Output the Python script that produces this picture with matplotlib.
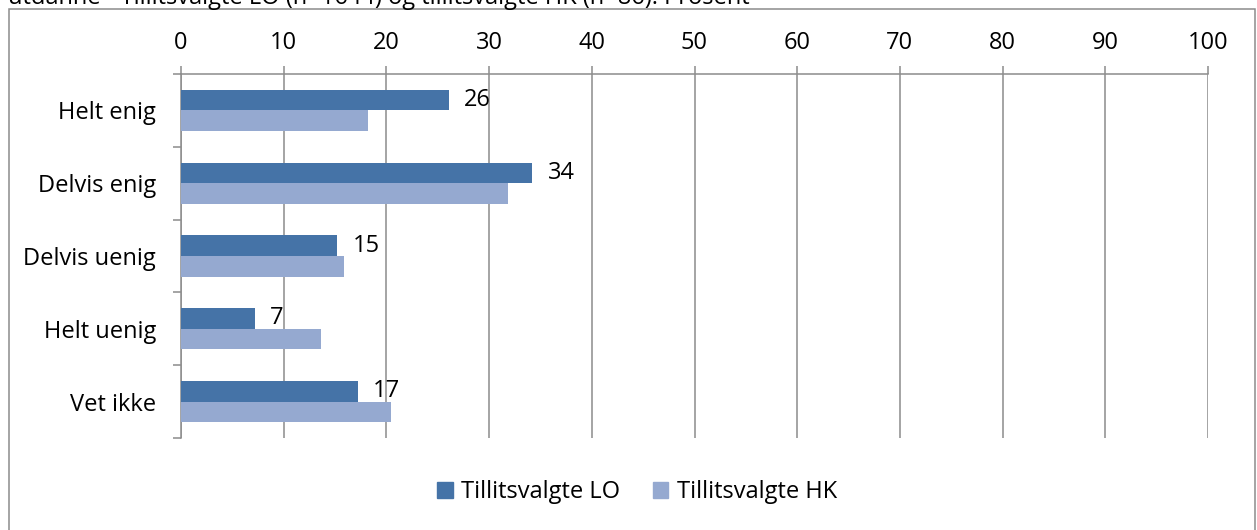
import matplotlib
matplotlib.use("Agg")
import matplotlib.pyplot as plt
from matplotlib.patches import Patch, Rectangle

plt.rcParams["font.family"] = ["Open Sans", "DejaVu Sans"]

categories = ["Helt enig", "Delvis enig", "Delvis uenig", "Helt uenig", "Vet ikke"]
lo_values = [26.1, 34.2, 15.2, 7.2, 17.2]
hk_values = [18.2, 31.8, 15.9, 13.6, 20.4]
lo_labels = ["26", "34", "15", "7", "17"]
series_names = ["Tillitsvalgte LO", "Tillitsvalgte HK"]
x_ticks = list(range(0, 101, 10))
caption = "utdanne - Tillitsvalgte LO (n=1644) og tillitsvalgte HK (n=86). Prosent"

lo_col = "#4573a7"
hk_col = "#95a9d0"
grey = "#8c8c8c"
fs = 17

W, H = 1257, 530
fig = plt.figure(figsize=(W / 100, H / 100), dpi=100)

# outer chart frame (bottom edge runs off the picture)
fig.patches.append(Rectangle((9 / W, -0.05), (1255 - 9) / W, 1.05 - 9 / H,
                             transform=fig.transFigure, fill=False,
                             edgecolor=grey, lw=1.1))
# caption line, cut off at the top like in the original
fig.text(8 / W, 1 - 4.5 / H, caption, fontsize=fs, va="baseline", ha="left")

ax = fig.add_axes([181 / W, 1 - 438 / H, (1208 - 181) / W, (438 - 74) / H])

ypos = list(range(len(categories)))
h = 0.284
ax.barh([y - h / 2 for y in ypos], lo_values, height=h, color=lo_col, zorder=3)
ax.barh([y + h / 2 for y in ypos], hk_values, height=h, color=hk_col, zorder=3)

for y, v, lab in zip(ypos, lo_values, lo_labels):
    ax.annotate(lab, (v, y - h / 2), xytext=(11, 0), textcoords="offset points",
                va="center", ha="left", fontsize=fs, zorder=4)

ax.set_xlim(0, 100)
ax.set_ylim(len(categories) - 0.5, -0.5)
ax.set_xticks(x_ticks)
ax.xaxis.tick_top()
ax.tick_params(axis="x", direction="out", length=5.8, width=1.1, color=grey,
               labelsize=fs, pad=8)
ax.set_yticks(ypos)
ax.set_yticklabels(categories)
ax.set_yticks([y - 0.5 for y in range(len(categories) + 1)], minor=True)
ax.tick_params(axis="y", which="major", length=0, labelsize=fs, pad=18)
ax.tick_params(axis="y", which="minor", direction="out", length=5.8, width=1.1,
               color=grey)
ax.grid(axis="x", color=grey, lw=1.1, zorder=1)
for s in ["right", "bottom"]:
    ax.spines[s].set_visible(False)
for s in ["left", "top"]:
    ax.spines[s].set_color(grey)
    ax.spines[s].set_linewidth(1.1)

handles = [Patch(color=lo_col), Patch(color=hk_col)]
fig.legend(handles, series_names, loc="center", bbox_to_anchor=(637 / W, 1 - 492 / H),
           ncol=2, frameon=False, fontsize=fs, handlelength=0.65, handleheight=0.65,
           handletextpad=0.35, columnspacing=1.4)

fig.savefig("out.png", dpi=100)
